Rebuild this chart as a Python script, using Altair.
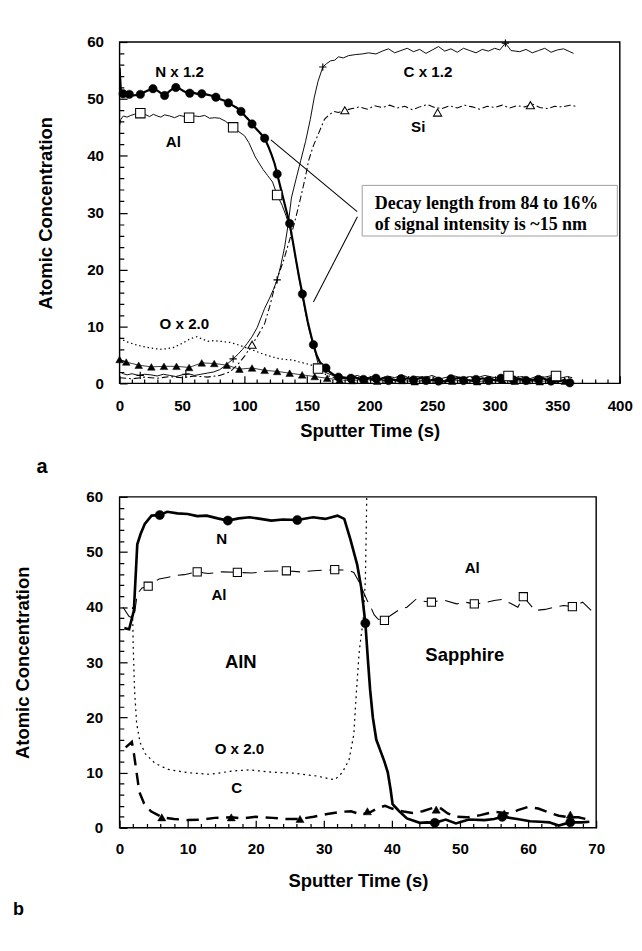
import altair as alt
import pandas as pd

FONT = "Liberation Sans"
SERIF = "Liberation Serif"

# ---------------- Panel a : values ----------------
a_N = [(0,55.5),(1,51.6),(2.8,50.9),(5,50.6),(7.8,50.8),(11,50.6),(14,50.7),(16.6,50.8),(20,51.2),(23,51.5),
       (26.7,51.8),(30,51.5),(33,51.0),(36,50.6),(39,51.2),(42,51.7),(45,52.0),(48,51.8),(51,51.4),(54,51.1),
       (56.1,51.0),(59,51.1),(62,50.9),(65.7,50.9),(69,50.8),(73,50.6),(77,50.3),(80,50.0),(84,49.7),(87,49.3),
       (90,48.9),(94,48.4),(97.1,47.8),(100,47.1),(103,46.4),(105.9,45.6),(109,44.8),(112,44.1),(116,43.1),
       (119,41.6),(121.5,40.2),(124,38.6),(126,36.8),(128.5,34.6),(131,32.4),(133.5,30.2),(136,28.1),(138.5,25.0),
       (141,21.8),(143.5,18.7),(146.2,15.7),(148.5,13.0),(150.5,10.8),(153,8.5),(155,6.8),(157.5,5.0),(160,3.8),
       (162.5,3.1),(165,2.7),(168,2.0),(172,1.4),(177,1.0),(182,0.9),(188,1.1),(194,0.6),(200,0.9),(206,0.5),
       (212,1.0),(218,0.7),(224,0.4),(230,0.9),(236,0.6),(242,1.1),(248,0.5),(254,0.8),(260,0.3),(266,0.7),
       (272,1.0),(278,0.6),(284,0.4),(290,0.9),(296,0.7),(302,0.5),(308,1.1),(314,0.6),(320,0.8),(326,0.4),
       (332,0.7),(338,0.9),(344,0.5),(350,0.3),(356,0.6),(360,0.2)]
a_N_pts = [(2.8,50.9),(7.8,50.8),(16.6,50.8),(26.7,51.8),(36,50.6),(45,52.0),(56.1,51.0),(65.7,50.9),(77,50.3),
           (87,49.3),(97.1,47.8),(105.9,45.6),(116,43.1),(126,36.8),(136,28.1),(146.2,15.7),(155,6.8),(165,2.7),
           (175,1.1),(185,0.9),(195,0.7),(205,0.9),(215,0.5),(225,0.8),(235,0.6),(245,0.5),(255,0.4),(265,0.8),
           (275,0.5),(285,0.7),(295,0.5),(305,0.9),(315,0.6),(325,0.5),(335,0.7),(345,0.4),(360,0.1)]

a_Al = [(0,45.3),(1,46.4),(3,47.0),(6,46.8),(9,47.1),(12,47.3),(15,47.0),(18,47.5),(21,47.2),(24,46.9),(27,47.3),
        (30,47.0),(33,46.8),(36,47.2),(40,47.0),(44,46.7),(48,47.1),(52,46.9),(56,46.6),(60,47.0),(64,46.9),
        (68,47.1),(72,46.6),(76,46.7),(80,46.6),(84.5,46.1),(88,45.5),(91,45.0),(95,44.3),(100,43.5),(103.4,42.3),
        (108.5,39.8),(114.7,37.6),(118.5,36.5),(122.3,35.4),(126,33.1),(130,31.3),(133,29.5),(136,27.5),
        (138.5,24.8),(141,21.6),(143.5,18.5),(146,15.5),(148.5,12.6),(151,10.0),(153.5,7.8),(156,5.8),(158.7,3.5),
        (161,2.6),(164,2.0),(168,1.6),(172,1.3),(178,1.2),(184,1.0),(190,1.4),(196,0.9),(202,1.2),(208,0.8),
        (214,1.3),(220,1.0),(226,1.5),(232,0.9),(238,1.2),(244,1.0),(250,1.4),(256,0.8),(262,1.1),(268,1.3),
        (274,0.9),(280,1.2),(286,1.0),(292,1.4),(298,1.1),(304,0.9),(310,1.3),(316,1.0),(322,1.2),(328,0.8),
        (334,1.3),(340,1.1),(346,1.4),(352,0.9),(358,1.2),(362,1.0)]
a_Al_pts = [(16.6,47.5),(55.6,46.7),(90.8,45.0),(126,33.1),(158.7,2.6),(311,1.3),(349,1.3)]

a_C = [(0,2.0),(3,1.7),(6,1.5),(10,1.7),(15,1.4),(20,1.6),(25,1.5),(30,1.3),(35,1.6),(40,1.4),(45,1.2),(50,1.5),
       (55,1.7),(60,1.4),(65,1.6),(70,1.8),(75,2.0),(80,2.4),(85,3.2),(90.8,4.3),(95,5.2),(98.4,6.0),(102,7.0),
       (105.9,8.2),(110,9.8),(113,11.5),(116,13.2),(120,15.0),(123,16.5),(126,18.2),(129,20.8),(132,24.0),
       (134.9,28.1),(137.4,32.6),(141.1,35.9),(144.9,39.2),(148.7,42.5),(152.5,46.4),(155.7,50.3),(158.7,53.1),
       (162.5,55.6),(165.5,56.2),(168.8,56.7),(172,56.8),(175,57.4),(178.9,57.2),(183,57.6),(188.9,57.8),
       (194,57.9),(199,58.1),(205,57.9),(210,58.4),(215,58.8),(220,58.1),(225,58.5),(230,58.9),(235,58.3),
       (240,58.7),(245,58.0),(250,58.6),(255,59.2),(260,58.4),(265,58.8),(270,58.2),(275,58.9),(280,58.5),
       (285,58.1),(290,58.7),(295,58.4),(300,58.9),(304,58.6),(308.5,59.8),(313,58.5),(320,58.3),(325,58.7),
       (330,58.1),(335,58.5),(340,58.9),(345,58.2),(350,58.6),(355,58.8),(360,58.3),(363,58.0)]
a_C_pts = [(16.5,1.4),(53,1.6),(90.8,4.3),(126,18.2),(162.5,55.6),(308.5,59.8)]

a_Si = [(0,1.0),(10,0.8),(20,1.1),(30,0.9),(40,1.2),(50,1.0),(60,1.3),(70,1.1),(80,1.4),(88,2.0),(94,3.2),
        (100,4.8),(105.9,6.8),(110,8.2),(116,10.5),(120,13.5),(123.5,16.5),(127.3,19.2),(131,21.5),(135,24.5),
        (139,27.5),(143.6,31.5),(148.7,36.4),(151.2,39.2),(155,41.8),(158.7,43.7),(163.8,46.4),(167,47.1),
        (171.3,47.8),(175,47.6),(180.1,48.0),(186,48.3),(192,48.6),(198,48.2),(204,48.8),(210,48.5),(216,48.9),
        (222,48.4),(228,48.7),(234,48.1),(240,48.6),(246,49.0),(252,48.5),(258,48.3),(264,48.8),(270,48.4),
        (276,48.9),(282,48.6),(288,48.2),(294,48.7),(300,48.5),(306,48.9),(312,48.4),(318,48.8),(324,48.6),
        (330,49.1),(336,48.5),(342,48.3),(348,48.7),(354,48.6),(360,48.9),(365,48.7)]
a_Si_pts = [(105.9,6.8),(180.1,48.0),(254.3,47.6),(328.5,48.9)]

a_O = [(0,8.0),(2.8,7.6),(7,7.2),(12.8,6.8),(18,6.5),(22.9,6.3),(28,6.1),(32.9,6.0),(38,6.1),(43,6.3),(48,6.8),
       (53,7.4),(57,7.9),(61.9,8.2),(66,7.8),(70.7,7.4),(75,7.5),(80.8,7.4),(84,7.3),(88.3,7.2),(93,6.9),
       (98.4,6.5),(103,6.1),(108.5,5.7),(113,5.3),(118.5,4.9),(123,4.6),(128.5,4.3),(133,4.2),(138.6,4.1),
       (143,3.8),(148.7,3.5),(152,3.3),(156.2,3.0),(161.3,2.1),(166,1.4),(172,1.0),(180,0.8),(190,1.1),
       (200,0.7),(210,1.0),(220,0.6),(230,1.2),(240,0.8),(250,1.0),(260,0.6),(270,0.9),(280,1.1),(290,0.7),
       (300,1.0),(310,0.8),(320,1.2),(330,0.7),(340,1.0),(350,0.8),(360,1.1)]

a_T = [(0,4.2),(5.3,3.75),(15.3,3.2),(25.4,2.9),(35.5,3.0),(45.5,3.0),(55.6,2.8),(65.7,3.6),(75.7,3.5),
       (85.8,3.2),(95.8,2.5),(105.9,2.7),(116,2.3),(126,2.1),(136,1.8),(146,1.5),(156,1.2),(166,0.9),(176,0.6),
       (186,0.5),(196,0.7),(206,0.4),(216,0.6),(226,0.5),(236,0.3),(246,0.6),(256,0.5),(266,0.4),(276,0.6),
       (286,0.3),(296,0.5),(306,0.6),(316,0.4),(326,0.5),(336,0.3),(346,0.6),(356,0.4)]

a_labels = [("N x 1.2", 48, 54.7), ("Al", 43, 42.3), ("C x 1.2", 246.6, 54.7), ("Si", 238.8, 45.0),
            ("O x 2.0", 51.8, 10.4)]
a_note_lines = ["Decay length from 84 to 16%", "of signal intensity is ~15 nm"]
a_note_x = 204
a_note_y = [31.7, 28.0]
a_note_box = (194, 398, 25.9, 34.8)
a_leaders = [(121, 42.8, 190, 30.2), (155, 14.3, 190.2, 29.3)]

# ---------------- Panel b ----------------
b_N = [(0.7,36.2),(1.4,36.0),(2.1,39.4),(2.6,51.4),(3.1,53.3),(3.7,55.1),(4.7,56.6),(5.9,56.7),(7.0,57.3),
       (8.5,57.0),(10.0,56.9),(11.4,56.5),(12.8,56.6),(14.4,56.1),(15.9,55.7),(17.5,56.1),(19.1,56.3),
       (20.7,56.0),(22.3,55.7),(24.0,55.9),(26.1,55.8),(28.4,56.3),(30.2,56.0),(32.0,56.6),(33.0,56.0),
       (33.9,52.3),(34.9,47.7),(35.5,43.5),(36.1,37.1),(36.5,30.0),(36.8,25.0),(37.2,20.0),(37.7,16.0),
       (38.3,14.0),(38.9,12.0),(39.4,10.0),(39.8,7.0),(40.1,4.3),(41.0,3.1),(42.2,1.7),(44.1,0.9),(45.2,1.0),
       (46.3,0.9),(47.9,1.5),(49.4,0.8),(51.3,1.5),(53.6,1.4),(55.0,1.6),(56.2,2.0),(58.4,1.6),(60.3,1.2),
       (61.8,1.1),(63.1,1.0),(64.5,0.4),(66.2,1.0),(67.9,1.0),(69.0,1.1)]
b_N_pts = [(5.9,56.7),(15.9,55.7),(26.1,55.8),(36.1,37.1),(46.3,0.9),(56.2,2.0),(66.2,1.0)]

b_Al = [(0.5,40.0),(1.4,38.3),(2.1,38.0),(2.6,42.4),(3.3,43.5),(4.2,43.8),(5.0,44.5),(5.8,45.1),(7.0,45.4),
        (8.5,45.8),(9.5,45.9),(11.4,46.4),(13.0,46.1),(15.0,46.4),(17.3,46.3),(19.5,46.2),(21.5,46.5),
        (24.5,46.6),(26.5,46.4),(28.5,46.6),(31.6,46.8),(33.5,46.7),(34.4,46.3),(35.3,44.3),(35.7,43.1),
        (36.3,41.4),(36.9,40.0),(37.4,38.6),(38.0,37.8),(38.9,37.6),(39.8,38.5),(40.9,39.4),(42.2,40.0),
        (43.5,41.4),(44.6,41.1),(45.8,40.9),(47.0,41.2),(47.8,41.2),(49.5,40.6),(50.8,40.9),(52.1,40.6),
        (53.5,40.8),(55.0,41.2),(56.2,41.4),(57.4,40.7),(58.5,40.0),(59.3,41.9),(60.2,40.6),(61.0,39.4),
        (62.5,39.6),(63.9,40.0),(65.2,40.3),(66.5,40.1),(67.5,40.6),(68.0,40.9),(69.7,38.9)]
b_Al_pts = [(4.2,43.8),(11.4,46.4),(17.3,46.3),(24.5,46.6),(31.6,46.8),(38.9,37.6),(45.8,40.9),(52.1,40.6),
            (59.3,41.9),(66.5,40.1)]

b_O = [(1.9,40.0),(2.0,33.0),(2.2,25.0),(2.5,19.0),(3.0,15.5),(3.8,13.4),(5.2,11.7),(7.1,10.6),(10.0,10.0),
       (13.3,9.7),(16.6,10.3),(19.0,10.5),(22.3,10.1),(25.6,9.9),(28.9,9.4),(31.6,8.7),(32.7,10.0),(33.7,12.3),
       (34.4,16.9),(34.8,25.0),(35.2,32.0),(35.8,38.0),(36.1,45.0),(36.2,52.0),(36.3,60.0)]

b_C = [(0.9,14.6),(1.8,15.6),(2.1,13.5),(2.5,10.0),(2.9,6.5),(3.6,4.4),(4.6,3.0),(5.8,2.2),(6.2,1.9),(8.0,1.6),
       (10.0,1.4),(12.0,1.5),(14.0,1.8),(16.4,1.9),(18.0,1.7),(20.0,2.0),(22.5,1.8),(24.5,1.6),(26.5,1.6),
       (28.5,2.0),(30.5,2.5),(32.5,2.9),(34.0,3.0),(35.5,2.4),(36.9,2.9),(38.0,3.6),(39.0,4.0),(40.0,3.5),
       (41.5,3.0),(43.0,2.7),(44.5,3.0),(46.0,3.6),(47.2,3.5),(48.2,2.6),(49.5,2.0),(51.0,1.9),(53.0,2.3),
       (55.0,2.9),(57.3,2.6),(58.5,3.2),(60.0,3.8),(61.5,3.5),(63.0,2.8),(64.5,2.2),(66.0,1.9),(67.4,1.9),
       (68.5,1.6)]
b_C_pts = [(6.2,1.9),(16.4,1.9),(26.5,1.6),(36.4,3.0),(46.5,3.3),(56.5,2.6),(66.2,2.4)]

b_labels = [("N", 15.0, 52.3), ("Al", 14.6, 42.1), ("Al", 51.8, 47.1), ("O x 2.0", 17.6, 14.3), ("C", 17.2, 7.1)]
b_big_labels = [("AlN", 17.8, 30.0), ("Sapphire", 50.7, 31.2)]

# axis tick values (labels on majors, short ticks on the rest)
a_x_ticks = list(range(0, 401, 10))
a_y_ticks = list(range(0, 61, 2))
b_x_ticks = list(range(0, 71, 2))
b_y_ticks = list(range(0, 61, 2))


def frame(pairs):
    return pd.DataFrame({"x": [p[0] for p in pairs], "y": [p[1] for p in pairs], "i": list(range(len(pairs)))})


TICK = 8


class Panel:
    """One plot panel; every layer carries the same axis definition so they merge cleanly.
    The axis line is pulled TICK px inside the frame so its ticks read as inward ticks."""

    def __init__(self, xdom, ydom, xticks, xmajor, yticks, ymajor, xlabpad, xtitlepad, ylabpad, ytitlepad):
        self.xs = alt.Scale(domain=xdom, nice=False, zero=False)
        self.ys = alt.Scale(domain=ydom, nice=False, zero=False)

        def dash(step):
            return {"condition": {"test": "datum.value % " + str(step) + " === 0", "value": [TICK, 0]},
                    "value": [0, TICK - 4.5, 4.5, 60]}

        def lab(step):
            return {"condition": {"test": "datum.value % " + str(step) + " === 0", "value": 1}, "value": 0}

        common = dict(labelFont=FONT, labelFontSize=16, labelFontWeight="bold", labelColor="black",
                      titleFont=FONT, titleFontSize=19.5, titleFontWeight="bold", titleColor="black",
                      grid=False, domain=False, ticks=True, tickSize=TICK, tickWidth=1.3, tickColor="black",
                      offset=-TICK, labelFlush=False, labelOverlap=False)
        self.ax = alt.Axis(orient="bottom", values=xticks, title="Sputter Time (s)", labelPadding=xlabpad,
                           titlePadding=xtitlepad, tickDash=dash(xmajor), labelOpacity=lab(xmajor), **common)
        self.ay = alt.Axis(orient="left", values=yticks, title="Atomic Concentration", labelPadding=ylabpad,
                           titlePadding=ytitlepad, tickDash=dash(ymajor), labelOpacity=lab(ymajor), **common)

    def X(self, f="x"):
        return alt.X(f + ":Q", scale=self.xs, axis=self.ax)

    def Y(self, f="y"):
        return alt.Y(f + ":Q", scale=self.ys, axis=self.ay)

    def line(self, pairs, **kw):
        return alt.Chart(frame(pairs)).mark_line(color="black", clip=True, **kw).encode(
            x=self.X(), y=self.Y(), order=alt.Order("i:Q"))

    def pts(self, pairs, **kw):
        return alt.Chart(frame(pairs)).mark_point(opacity=1, **kw).encode(x=self.X(), y=self.Y())

    def text(self, items, size, font=FONT, align="center"):
        df = pd.DataFrame({"t": [i[0] for i in items], "x": [i[1] for i in items], "y": [i[2] for i in items]})
        return alt.Chart(df).mark_text(font=font, fontSize=size, fontWeight="bold", color="black",
                                       align=align, baseline="middle").encode(x=self.X(), y=self.Y(), text="t:N")


PLUS = "M-1,0L1,0M0,-1L0,1"

# ---------------- build panel a ----------------
WA, HA = 529, 361
pa = Panel([0, 400], [0, 60], a_x_ticks, 50, a_y_ticks, 10, xlabpad=16, xtitlepad=9, ylabpad=17, ytitlepad=33)
box_df = pd.DataFrame({"x": [a_note_box[0]], "x2": [a_note_box[1]], "y": [a_note_box[2]], "y2": [a_note_box[3]]})
box = alt.Chart(box_df).mark_rect(fillOpacity=0, stroke="#9a9a9a", strokeWidth=1).encode(
    x=pa.X(), x2="x2:Q", y=pa.Y(), y2="y2:Q")
lead_df = pd.DataFrame({"x": [l[0] for l in a_leaders], "y": [l[1] for l in a_leaders],
                        "x2": [l[2] for l in a_leaders], "y2": [l[3] for l in a_leaders]})
leaders = alt.Chart(lead_df).mark_rule(color="black", strokeWidth=1.1).encode(
    x=pa.X(), y=pa.Y(), x2="x2:Q", y2="y2:Q")
note_items = [(a_note_lines[k], a_note_x, a_note_y[k]) for k in range(2)]

layers_a = [
    pa.line(a_O, strokeWidth=1.3, strokeDash=[1.5, 3]),
    pa.line(a_T, strokeWidth=0.8),
    pa.line(a_C, strokeWidth=1.0),
    pa.line(a_Si, strokeWidth=1.1, strokeDash=[7, 3, 2, 3]),
    pa.line(a_Al, strokeWidth=1.0),
    pa.line(a_N, strokeWidth=2.3),
    pa.pts(a_T, shape="triangle-up", size=65, filled=True, fill="black", stroke="black", strokeWidth=0.5),
    pa.pts(a_N_pts, shape="circle", size=80, filled=True, fill="black", stroke="black", strokeWidth=0.5),
    pa.pts(a_Al_pts, shape="square", size=100, filled=True, fill="white", stroke="black", strokeWidth=1.1),
    pa.pts(a_Si_pts, shape="triangle-up", size=75, filled=True, fill="white", stroke="black", strokeWidth=1.1),
    pa.pts(a_C_pts, shape=PLUS, size=60, filled=False, stroke="black", strokeWidth=1.2),
    pa.text(a_labels, 16),
    leaders,
    box,
    pa.text(note_items, 19, font=SERIF, align="left"),
]
top = alt.layer(*layers_a).properties(
    width=WA, height=HA,
    title=alt.TitleParams(text="a", orient="bottom", anchor="start", frame="bounds", font=FONT,
                          fontSize=21, fontWeight="bold", color="black", offset=18))

# ---------------- build panel b ----------------
WB, HB = 504, 350
pb = Panel([0, 70], [0, 60], b_x_ticks, 10, b_y_ticks, 10, xlabpad=14, xtitlepad=17, ylabpad=18, ytitlepad=57)
layers_b = [
    pb.line(b_O, strokeWidth=1.3, strokeDash=[2, 4]),
    pb.line(b_C, strokeWidth=2.6, strokeDash=[13, 8]),
    pb.line(b_Al, strokeWidth=1.1, strokeDash=[15, 8]),
    pb.line(b_N, strokeWidth=2.8),
    pb.pts(b_C_pts, shape="triangle-up", size=75, filled=True, fill="black", stroke="black", strokeWidth=0.5),
    pb.pts(b_N_pts, shape="circle", size=95, filled=True, fill="black", stroke="black", strokeWidth=0.5),
    pb.pts(b_Al_pts, shape="square", size=75, filled=True, fill="white", stroke="black", strokeWidth=1.1),
    pb.text(b_labels, 16),
    pb.text(b_big_labels, 19.5),
]
bottom = alt.layer(*layers_b).properties(
    width=WB, height=HB,
    title=alt.TitleParams(text="b", orient="bottom", anchor="start", frame="bounds", font=FONT,
                          fontSize=19, fontWeight="bold", color="black", offset=12))

chart = alt.vconcat(top, bottom, spacing=11).properties(
    padding={"left": 4, "top": 0, "right": 0, "bottom": 0}
).configure_view(stroke="black", strokeWidth=1.5)

chart.save("out.html", embed_options={"renderer": "svg", "actions": False})
